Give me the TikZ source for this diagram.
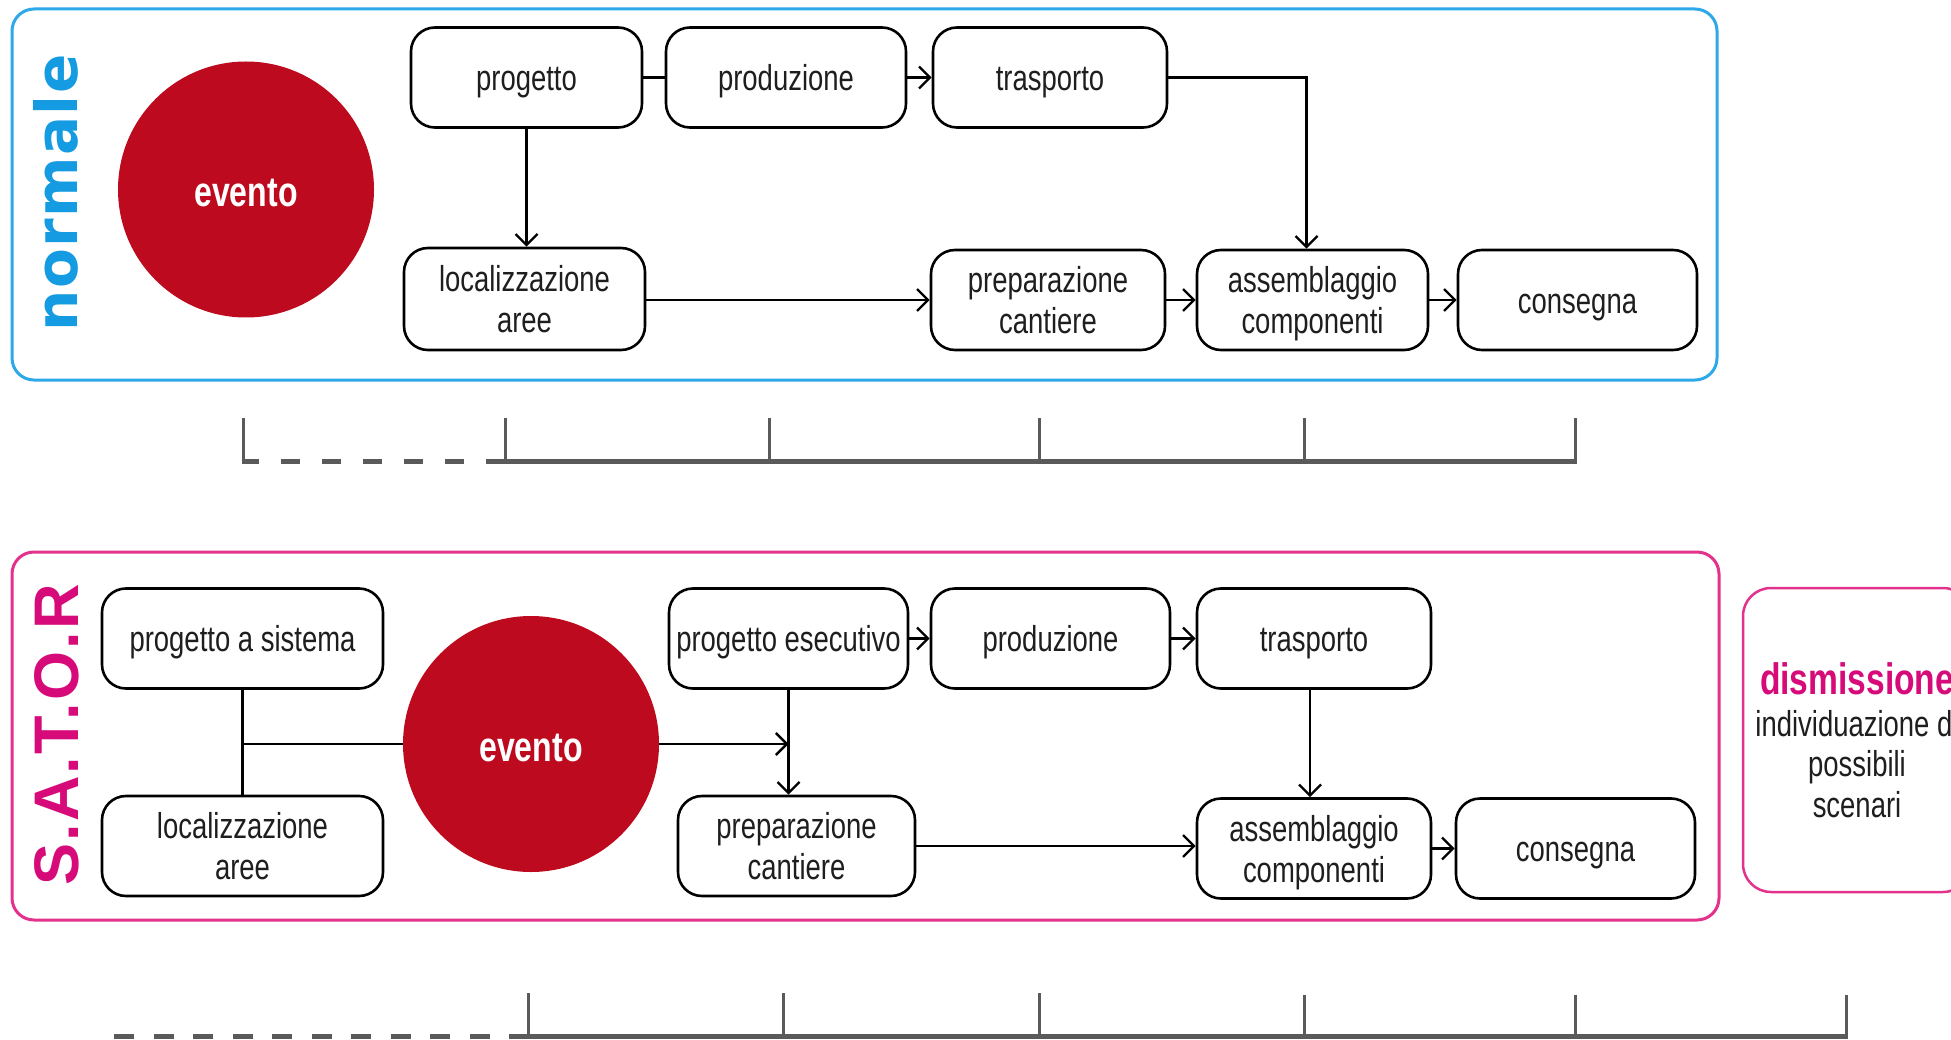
\documentclass[tikz,border=0pt]{standalone}
\usepackage{fontspec}
\setmainfont{Liberation Sans}
\newfontfamily\narrowfont[FakeStretch=0.763]{Liberation Sans}
\newfontfamily\vfont[LetterSpace=2.5]{DejaVu Sans}
\newfontfamily\satorfont[LetterSpace=3.5]{Liberation Sans}
\usetikzlibrary{arrows.meta,calc}

\definecolor{frameblue}{RGB}{45,168,232}
\definecolor{textblue}{RGB}{20,155,225}
\definecolor{framepink}{RGB}{228,50,140}
\definecolor{textpink}{RGB}{215,10,122}
\definecolor{eventred}{RGB}{190,10,30}
\definecolor{tlgray}{RGB}{90,90,90}
\definecolor{boxtext}{RGB}{30,30,30}

\newcommand\boxstrut{\rule[-7pt]{0pt}{40.5pt}}

\tikzset{
  stepbox/.style={draw=black, line width=2.6pt, rounded corners=24pt, minimum height=100pt,
    inner sep=0pt, align=center, text=boxtext, font=\narrowfont\fontsize{36}{41}\selectfont},
  eventnode/.style={circle, fill=eventred, minimum size=256pt, inner sep=0pt, text=white,
    text height=34pt, text depth=0pt,
    font=\narrowfont\bfseries\fontsize{42}{48}\selectfont},
  link/.style={draw=black, line width=2.4pt},
  arr/.style={link, -{Straight Barb[length=11pt,width=22pt]}},
  frame/.style={line width=3pt, rounded corners=22pt},
  tickline/.style={draw=tlgray, line width=3pt},
  baseline/.style={draw=tlgray, line width=5pt},
  distext/.style={anchor=base, inner sep=0pt, text=boxtext, font=\narrowfont\fontsize{36}{41}\selectfont},
}

\begin{document}
\begin{tikzpicture}[x=1pt,y=-1pt]
\useasboundingbox (0,0) rectangle (1951,1040);
\clip (0,0) rectangle (1951,1040);
\fill[white] (0,0) rectangle (1951,1040);

% ---------------- normale ----------------
\draw[frame, draw=frameblue] (12,9) rectangle (1717,380);
\node[rotate=90, inner sep=0pt, text=textblue, font=\vfont\bfseries\fontsize{58}{60}\selectfont] (lblnormale) at (56,193) {normale};

\node[eventnode] (ev1) at (246,189.5) {evento};

\node[stepbox, minimum width=231pt] (p1)  at (526.5,77.5) {\boxstrut progetto};
\node[stepbox, minimum width=240pt] (pr1) at (786,77.5)   {\boxstrut produzione};
\node[stepbox, minimum width=234pt] (tr1) at (1050,77.5)  {\boxstrut trasporto};
\node[stepbox, minimum width=241pt, minimum height=102pt] (lo1) at (524.5,299) {\boxstrut localizzazione\\\boxstrut aree};
\node[stepbox, minimum width=234pt] (pc1) at (1048,300)   {\boxstrut preparazione\\\boxstrut cantiere};
\node[stepbox, minimum width=231pt] (as1) at (1312.5,300) {\boxstrut assemblaggio\\\boxstrut componenti};
\node[stepbox, minimum width=239pt] (co1) at (1577.5,300) {\boxstrut consegna};

\draw[link] (p1) -- (pr1);
\draw[arr] (pr1) -- (tr1);
\draw[arr] (tr1.east) -| ($(as1.north)+(-6,0)$);
\draw[arr] (p1.south) -- (p1.south |- lo1.north);
\draw[arr] (lo1.east |- pc1.west) -- (pc1.west);
\draw[arr] (pc1) -- (as1);
\draw[arr] (as1) -- (co1);

% timeline 1
\foreach \tx in {243,505,769,1039,1304,1575}
  \draw[tickline] (\tx,418) -- (\tx,461.5);
\draw[baseline] (503.5,461.5) -- (1576.5,461.5);
\draw[baseline, dash pattern=on 19pt off 22pt] (505,461.5) -- (241.5,461.5);

% ---------------- S.A.T.O.R ----------------
\draw[frame, draw=framepink] (12,552) rectangle (1719,920);
\node[rotate=90, inner sep=0pt, text=textpink, font=\satorfont\bfseries\fontsize{63}{65}\selectfont] (lblsator) at (57,735) {S.A.T.O.R};

\node[stepbox, minimum width=281pt] (ps2) at (242.5,638.5) {\boxstrut progetto a sistema};
\node[stepbox, minimum width=281pt] (lo2) at (242.5,846)   {\boxstrut localizzazione\\\boxstrut aree};
\node[eventnode] (ev2) at (531,744) {evento};
\node[stepbox, minimum width=239pt] (pe2) at (788.5,638.5) {\boxstrut progetto esecutivo};
\node[stepbox, minimum width=237pt] (pc2) at (796.5,846)   {\boxstrut preparazione\\\boxstrut cantiere};
\node[stepbox, minimum width=239pt] (pr2) at (1050.5,638.5){\boxstrut produzione};
\node[stepbox, minimum width=234pt] (tr2) at (1314,638.5)  {\boxstrut trasporto};
\node[stepbox, minimum width=234pt] (as2) at (1314,848.5)  {\boxstrut assemblaggio\\\boxstrut componenti};
\node[stepbox, minimum width=239pt] (co2) at (1575.5,848.5){\boxstrut consegna};

\draw[link] (ps2) -- (lo2);
\draw[link] (ps2.south |- ev2.west) -- (ev2.west);
\coordinate (j2) at (pe2.south |- ev2.east);
\draw[arr] (ev2.east) -- (j2);
\draw[arr] (pe2.south) -- (pe2.south |- pc2.north);
\draw[arr] (pe2) -- (pr2);
\draw[arr] (pr2) -- (tr2);
\draw[arr] ($(tr2.south)+(-4,0)$) -- ($(as2.north)+(-4,0)$);
\draw[arr] (pc2.east) -- (pc2.east -| as2.west);
\draw[arr] (as2) -- (co2);

% dismissione box
\node[draw=framepink, line width=2.5pt, rounded corners=28pt, minimum width=228pt, minimum height=304pt, inner sep=0pt] (dis) at (1857,740) {};
\node[anchor=base, inner sep=0pt, text=textpink, font=\narrowfont\bfseries\fontsize{44}{46}\selectfont] (disT) at (1857,694.5) {dismissione};
\node[distext] (disA) at (1857,736) {individuazione di};
\node[distext] (disB) at (1857,776.5) {possibili};
\node[distext] (disC) at (1857,817) {scenari};

% timeline 2
\foreach \tx in {528.8,783.9,1039}
  \draw[tickline] (\tx,993) -- (\tx,1036.5);
\foreach \tx in {1304,1575,1846.5}
  \draw[tickline] (\tx,995) -- (\tx,1036.5);
\draw[baseline] (527.3,1036.5) -- (1848,1036.5);
\draw[baseline, dash pattern=on 20pt off 19.5pt] (529,1036.5) -- (114,1036.5);
\end{tikzpicture}
\end{document}
